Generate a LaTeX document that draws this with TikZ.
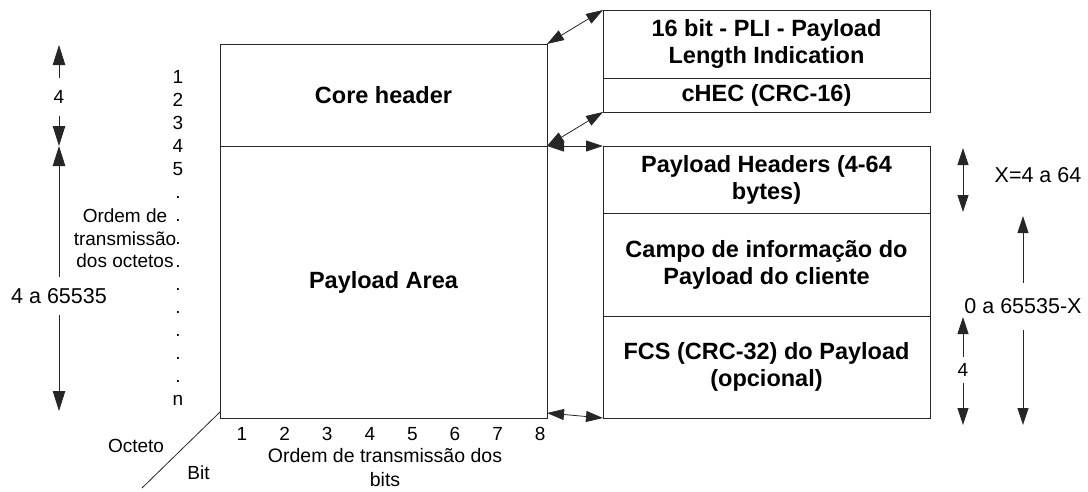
\documentclass[tikz,border=0pt]{standalone}
\usepackage{fontspec}
\setmainfont{Liberation Sans}
\usetikzlibrary{arrows.meta}

\begin{document}
\begin{tikzpicture}[x=1pt,y=-1pt,
  field/.style={draw=black!85, line width=1pt, inner sep=0pt, outer sep=0pt,
    anchor=north west, align=center, minimum width=327pt,
    font=\bfseries\fontsize{23.5}{27}\selectfont},
  plain/.style={inner sep=0pt, align=center, font=\fontsize{19}{23}\selectfont},
  biglabel/.style={inner sep=0pt, align=center, font=\fontsize{21.5}{25}\selectfont},
  smalllabel/.style={inner sep=0pt, align=center, font=\fontsize{19}{22}\selectfont},
  arrowone/.style={line width=0.8pt, draw=black!85, -{Triangle[length=17pt,width=11pt]}},
  arrowbig/.style={line width=0.8pt, draw=black!85, -{Triangle[length=20pt,width=12.5pt]}},
  biarrow/.style={line width=0.8pt, draw=black!85,
    {Triangle[length=17pt,width=11pt]}-{Triangle[length=17pt,width=11pt]}},
  axisline/.style={line width=0.8pt, draw=black!85}
]
\useasboundingbox (0,0) rectangle (1088,491);

% GFP frame: core header and payload area
\node[field, minimum height=102pt] (core) at (220,44) {Core header};
\node[field, minimum height=272pt] (area) at (220,146) {Payload Area};

% Core header fields
\node[field, minimum height=68pt] (pli) at (603,10) {16 bit - PLI - Payload\\Length Indication};
\node[field, minimum height=34pt] (chec) at (603,78) {cHEC (CRC-16)};

% Payload area fields
\node[field, minimum height=67pt] (phdr) at (603,146) {Payload Headers (4-64\\bytes)};
\node[field, minimum height=103pt] (campo) at (603,213) {Campo de informação do\\Payload do cliente};
\node[field, minimum height=102pt] (fcs) at (603,316) {FCS (CRC-32) do Payload\\(opcional)};

% Links between the frame and its expanded fields
\draw[biarrow] (core.north east) -- (pli.north west);
\draw[biarrow] (core.south east) -- (chec.south west);
\draw[biarrow] (area.north east) -- (phdr.north west);
\draw[biarrow] ([yshift=5pt]area.south east) -- (fcs.south west);

% Octet count arrows on the left
\coordinate (hdtop) at (59,45);
\coordinate (hdbot) at (59,146);
\node[smalllabel, minimum height=37pt] (hdlen) at (59,97) {4};
\draw[arrowbig] (hdlen.north) -- (hdtop);
\draw[arrowbig] (hdlen.south) -- (hdbot);

\coordinate (pltop) at (59,146);
\coordinate (plbot) at (59,411);
\node[biglabel, minimum height=38pt] (pllen) at (59,296) {4 a 65535};
\draw[arrowbig] (pllen.north) -- (pltop);
\draw[arrowbig] (pllen.south) -- (plbot);

% Octet numbering
\foreach \t [count=\i] in {1,2,3,4,5,.,.,.,.,.,.,.,.,.,n}
  \node[plain, anchor=base] (oct\i) at (178,{83+23*(\i-1)}) {\t};
\node[plain, font=\fontsize{19}{22.5}\selectfont] (ordoct) at (125,238.5) {Ordem de\\transmissão\\dos octetos};

% Bit numbering
\foreach \i in {1,...,8}
  \node[plain, anchor=base] (bit\i) at ({242+42.6*(\i-1)},440) {\i};
\node[plain, font=\fontsize{19.5}{24}\selectfont] (ordbit) at (385,467.5) {Ordem de transmissão dos\\bits};

% Corner axis
\coordinate (diagend) at (142,488);
\draw[axisline] ([yshift=6pt]area.south west) -- (diagend);
\node[plain] (octeto) at (136,446) {Octeto};
\node[plain] (bitlbl) at (198.5,473) {Bit};

% Field size arrows on the right
\coordinate (xtop) at (963,148);
\coordinate (xbot) at (963,212);
\draw[biarrow] (xtop) -- (xbot);
\node[biglabel] (xlen) at (1038,175) {X=4 a 64};

\coordinate (rtop) at (1023,216);
\coordinate (rbot) at (1023,425);
\node[biglabel, minimum height=46pt] (rlen) at (1023,306.5) {0 a 65535-X};
\draw[arrowone] (rlen.north) -- (rtop);
\draw[arrowone] (rlen.south) -- (rbot);

\coordinate (ftop) at (963,317);
\coordinate (fbot) at (963,425);
\node[smalllabel, minimum height=25pt] (flen) at (963,370) {4};
\draw[arrowone] (flen.north) -- (ftop);
\draw[arrowone] (flen.south) -- (fbot);
\end{tikzpicture}
\end{document}
